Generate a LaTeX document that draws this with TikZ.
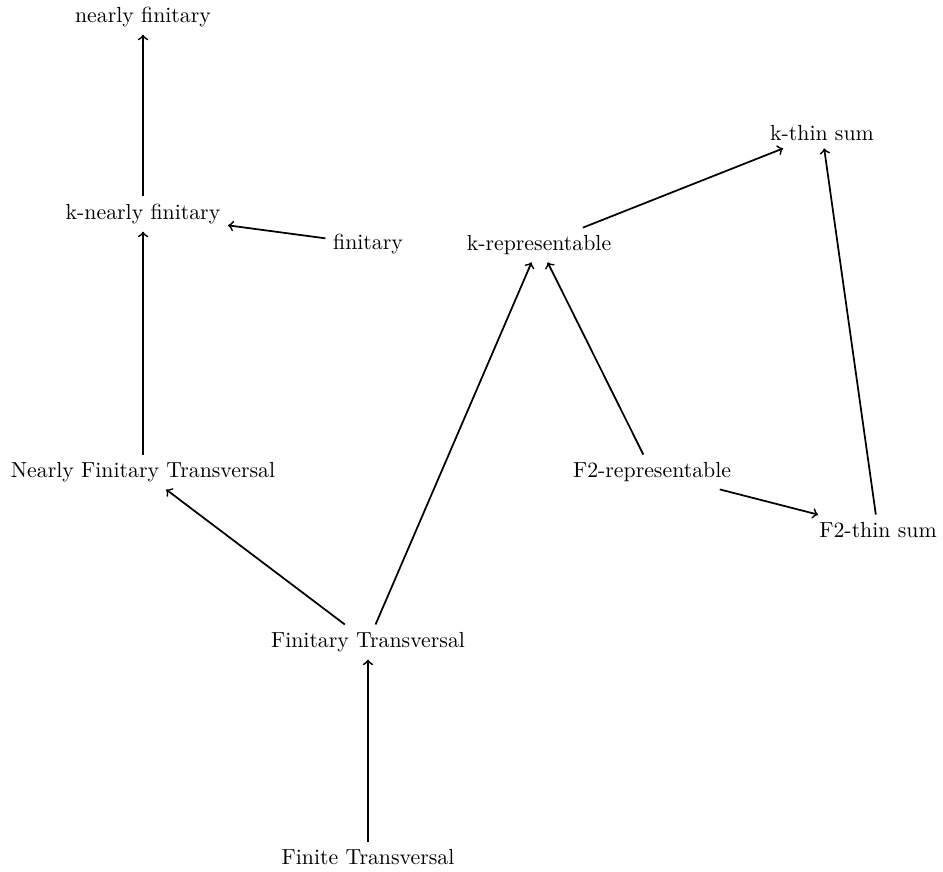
\documentclass[tikz,border=0pt]{standalone}
\usepackage{tikz}
\tikzset{>=to}

\begin{document}
\begin{tikzpicture}[x=0.4587pt, y=-0.4587pt]
    \useasboundingbox(0, 0) rectangle (943, 871);
    \node(nf)at(143, 17){nearly finitary};
    \node(knf)at(143, 214){k-nearly finitary};
    \node(fin)at(368, 244){finitary};
    \node(krep)at(539, 245){k-representable};
    \node(kts)at(822, 133){k-thin sum};
    \node(nft)at(143, 472){Nearly Finitary Transversal};
    \node(frep)at(652, 472){F2-representable};
    \node(fts)at(878, 530){F2-thin sum};
    \node(ft)at(368, 642){Finitary Transversal};
    \node(fint)at(368, 857){Finite Transversal};
    % left part
    \draw[thick, ->](knf)--(nf);
    \draw[thick, ->](fin)--(knf);
    \draw[thick, ->](nft)--(knf);
    \draw[thick, ->](ft)--(nft);
    \draw[thick, ->](fint)--(ft);
    % right part
    \draw[thick, ->](ft)--(krep);
    \draw[thick, ->](frep)--(krep);
    \draw[thick, ->](krep)--(kts);
    \draw[thick, ->](frep)--(fts);
    \draw[thick, ->](fts)--(kts);
\end{tikzpicture}
\end{document}
